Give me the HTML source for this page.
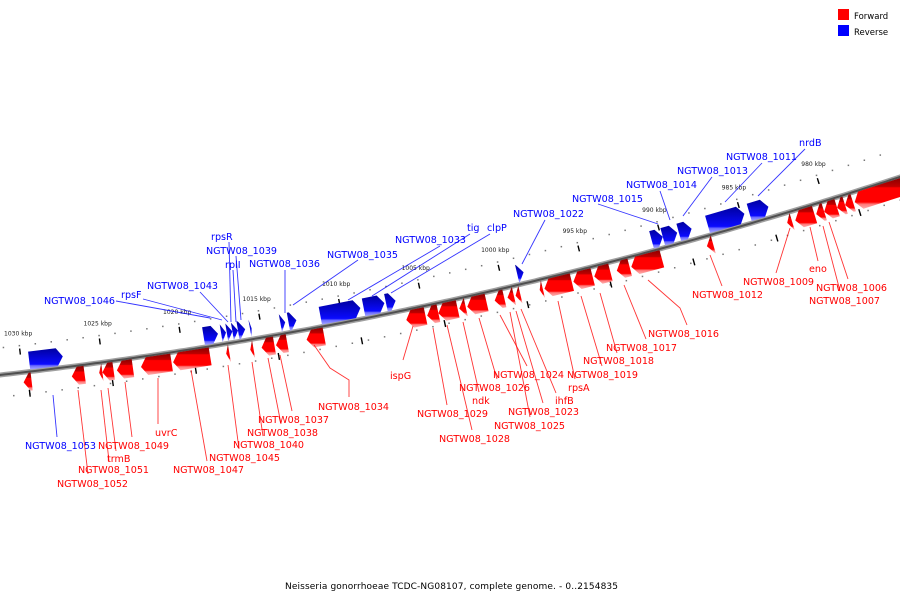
<!DOCTYPE html>
<html><head><meta charset="utf-8"><style>
html,body{margin:0;padding:0;background:#fff;}
svg{display:block;font-family:"DejaVu Sans","Liberation Sans",sans-serif;}
</style></head><body>
<svg id="chart" width="900" height="600" viewBox="0 0 900 600" xmlns="http://www.w3.org/2000/svg">
<defs>
<linearGradient id="gRed" x1="0" y1="0" x2="0" y2="1">
<stop offset="0" stop-color="#8a0000"/><stop offset="0.28" stop-color="#c00000"/><stop offset="0.32" stop-color="#ff0000"/><stop offset="0.78" stop-color="#ff0000"/><stop offset="0.85" stop-color="#ff7a7a"/><stop offset="1" stop-color="#ffb0b0"/>
</linearGradient>
<linearGradient id="gBlue" x1="0" y1="0" x2="0" y2="1">
<stop offset="0" stop-color="#0000a0"/><stop offset="0.75" stop-color="#0a0aff"/><stop offset="0.82" stop-color="#6a6aff"/><stop offset="1" stop-color="#a8a8ff"/>
</linearGradient>
</defs>
<g id="ticks"></g>
<g id="axis"></g>
<g id="genes"></g>
<g id="labels"></g>
<g>
<rect x="838" y="9" width="11" height="11" fill="#ff0000"/>
<text x="854" y="19" font-size="8.5" fill="#000">Forward</text>
<rect x="838" y="25" width="11" height="11" fill="#0000ff"/>
<text x="854" y="35" font-size="8.5" fill="#000">Reverse</text>
</g>
<text x="285" y="589" font-size="9" textLength="333" fill="#000">Neisseria gonorrhoeae TCDC-NG08107, complete genome. - 0..2154835</text>
</svg>
<script>
// gene data (kbp)
const geneStart = [1029.5,1026.2,1025.1,1024.4,1023.2,1020.8,1018.4,1017.2,1015.7,1014.4,1013.6,1011.3,1005.0,1004.2,1003.0,1002.5,1001.2,1000.1,999.5,999.1,997.7,995.9,994.6,993.5,992.3,990.3,987.1,982.2,980.8,980.2,979.4,978.9,978.4,975.3,
 1027.4,1017.7,1017.2,1016.8,1016.45,1016.0,1015.6,1013.5,1012.8,1008.8,1007.3,1006.6,998.6,989.9,989.0,988.1,984.8,983.3];
const geneEnd = [1030.0,1027.0,1025.3,1025.1,1024.2,1022.7,1020.7,1017.4,1015.9,1015.2,1014.3,1012.4,1006.2,1004.9,1004.2,1002.9,1002.4,1000.7,999.9,999.4,997.9,997.6,995.8,994.5,993.1,992.2,987.5,982.5,982.0,980.7,980.2,979.4,978.9,978.3,
 1029.5,1018.6,1017.5,1017.15,1016.8,1016.45,1015.7,1013.8,1013.3,1011.3,1008.6,1007.2,999.0,990.6,989.9,988.9,987.1,984.5];
const geneStrand = ['+','+','+','+','+','+','+','+','+','+','+','+','+','+','+','+','+','+','+','+','+','+','+','+','+','+','+','+','+','+','+','+','+','+',
 '-','-','-','-','-','-','-','-','-','-','-','-','-','-','-','-','-','-'];
const majorTicks = [1030,1025,1020,1015,1010,1005,1000,995,990,985,980];
const tickLabels = ['1030 kbp','1025 kbp','1020 kbp','1015 kbp','1010 kbp','1005 kbp','1000 kbp','995 kbp','990 kbp','985 kbp','980 kbp'];
const labelText = ['NGTW08_1053','NGTW08_1052','NGTW08_1051','trmB','NGTW08_1049','uvrC','NGTW08_1047','NGTW08_1045','NGTW08_1040','NGTW08_1038','NGTW08_1037','NGTW08_1034','ispG','NGTW08_1029','NGTW08_1028','ndk','NGTW08_1026','NGTW08_1024','NGTW08_1025','NGTW08_1023','ihfB','rpsA','NGTW08_1019','NGTW08_1018','NGTW08_1017','NGTW08_1016','NGTW08_1012','NGTW08_1009','eno','NGTW08_1006','NGTW08_1007',
 'NGTW08_1046','rpsF','NGTW08_1043','rplI','NGTW08_1039','rpsR','NGTW08_1036','NGTW08_1035','NGTW08_1033','tig','clpP','NGTW08_1022','NGTW08_1015','NGTW08_1014','NGTW08_1013','NGTW08_1011','nrdB'];
const labelStrand = ['-','+','+','+','+','+','+','+','+','+','+','+','+','+','+','+','+','+','+','+','+','+','+','+','+','+','+','+','+','+','+',
 '-','-','-','-','-','-','-','-','-','-','-','-','-','-','-','-','-'];
const labelPos = [[25,449],[57,487],[78,473],[107,462],[98,449],[155,436],[173,473],[209,461],[233,448],[247,436],[258,423],[318,410],[390,379],[417,417],[439,442],[472,404],[459,391],[493,378],[494,429],[508,415],[555,404],[568,391],[567,378],[583,364],[606,351],[648,337],[692,298],[743,285],[809,272],[816,291],[809,304],
 [44,304],[121,298],[147,289],[225,268],[206,254],[211,240],[249,267],[327,258],[395,243],[467,231],[487,231],[513,217],[572,202],[626,188],[677,174],[726,160],[799,146]];
const labelLines = [[[53,395],[57,437]],[[78,390],[88,474]],[[101,390],[109,461]],[[108,388],[116,451]],[[125,382],[132,437]],[[158,378],[158,424]],[[191,370],[207,461]],[[228,365],[239,449]],[[252,362],[263,436]],[[268,358],[281,424]],[[280,355],[292,411]],[[314,345],[330,368],[349,380],[349,397]],[[413,326],[403,360]],[[433,328],[447,405]],[[447,325],[472,430]],[[463,322],[479,392]],[[479,318],[497,379]],[[500,315],[527,366]],[[510,312],[530,417]],[[516,311],[543,403]],[[521,309],[556,393]],[[558,301],[575,379]],[[581,296],[602,366]],[[600,293],[617,353]],[[624,285],[646,339]],[[648,280],[680,308],[687,325]],[[710,255],[722,286]],[[790,228],[776,273]],[[810,227],[818,261]],[[829,222],[848,279]],[[823,226],[840,291]],
 [[116,301],[210,318]],[[143,299],[222,320]],[[200,292],[228,322]],[[233,270],[236,322]],[[236,256],[241,320]],[[229,242],[231,322]],[[285,270],[285,313]],[[358,260],[293,305]],[[440,246],[348,300]],[[470,234],[372,296]],[[490,234],[391,293]],[[545,220],[522,264]],[[598,204],[658,224]],[[660,191],[670,220]],[[712,177],[683,216]],[[762,163],[725,202]],[[805,149],[758,196]]];

const NS='http://www.w3.org/2000/svg';
function xOf(k){return (1031.4-k)*16.04;}
function axisY(x){return 375-0.1114*x-1.207e-4*x*x;}
function pt(x,o){const d=-0.1114-2.414e-4*x;const n=Math.sqrt(1+d*d);return [x+o*(-d)/n, axisY(x)+o/n];}
function mk(tag,attrs,parent){const e=document.createElementNS(NS,tag);for(const k in attrs)e.setAttribute(k,attrs[k]);parent.appendChild(e);return e;}
const P=a=>a.map(p=>p[0].toFixed(1)+','+p[1].toFixed(1)).join(' ');

const ax=document.getElementById('axis');
let pts=[];for(let x=-5;x<=905;x+=5)pts.push(pt(x,0));
const a1=mk('polyline',{points:P(pts),fill:'none',stroke:'#a0a0a0','stroke-width':5},ax);


const a2=mk('polyline',{points:P(pts),fill:'none',stroke:'#505050','stroke-width':2},ax);



const tg=document.getElementById('ticks');
for(let k=1031;k>=975;k--){
  const x=xOf(k); if(x<0||x>900)continue;
  const p=pt(x,-27);
  const d=mk('rect',{x:p[0]-0.7,y:p[1]-0.7,width:1.5,height:1.5,fill:'#777'},tg);
  
  
  const x2=xOf(k-0.3); const q=pt(x2,22);
  const d2=mk('rect',{x:q[0]-0.7,y:q[1]-0.7,width:1.5,height:1.5,fill:'#777'},tg);
  
  
}
majorTicks.forEach((k,i)=>{
  const x=xOf(k);
  const a=pt(x,-24),b=pt(x,-18);
  const t=mk('line',{x1:a[0],y1:a[1],x2:b[0],y2:b[1],stroke:'#000','stroke-width':1.4},tg);
  
  
  const l=pt(x,-37);
  const tx=mk('text',{x:l[0],y:l[1],'font-size':6,'text-anchor':'middle',fill:'#222'},tg);
  
  
  tx.textContent=tickLabels[i];
  const xi=xOf(k-0.3-(1030-k)*0.03); const c=pt(xi,18),e=pt(xi,25);
  const t2=mk('line',{x1:c[0],y1:c[1],x2:e[0],y2:e[1],stroke:'#000','stroke-width':1.4},tg);
  
  
});

const gg=document.getElementById('genes');
geneStart.forEach((s,i)=>{
  const xa=xOf(geneEnd[i]), xb=xOf(s);
  const fwd=geneStrand[i]==='+';
  const o1=fwd?1:-20, o2=fwd?19:-2, om=(o1+o2)/2;
  const len=xb-xa, ar=Math.min(6,len);
  let poly;
  if(fwd) poly=[pt(xa+ar,o1),pt(xb,o1),pt(xb,o2),pt(xa+ar,o2),pt(xa,om)];
  else poly=[pt(xa,o1),pt(xb-ar,o1),pt(xb,om),pt(xb-ar,o2),pt(xa,o2)];
  const g=mk('polygon',{points:P(poly),fill:fwd?'url(#gRed)':'url(#gBlue)'},gg);
  
  
});

const lg=document.getElementById('labels');
labelText.forEach((t,i)=>{
  const col=labelStrand[i]==='+'?'#ff0000':'#0000ff';
  const ln=mk('polyline',{points:P(labelLines[i]),fill:'none',stroke:col,'stroke-width':0.9,'stroke-opacity':0.8},lg);
  
  
  const tx=mk('text',{x:labelPos[i][0],y:labelPos[i][1],'font-size':9.6,fill:col},lg);
  
  
  tx.textContent=t;
});
</script>
</body></html>
